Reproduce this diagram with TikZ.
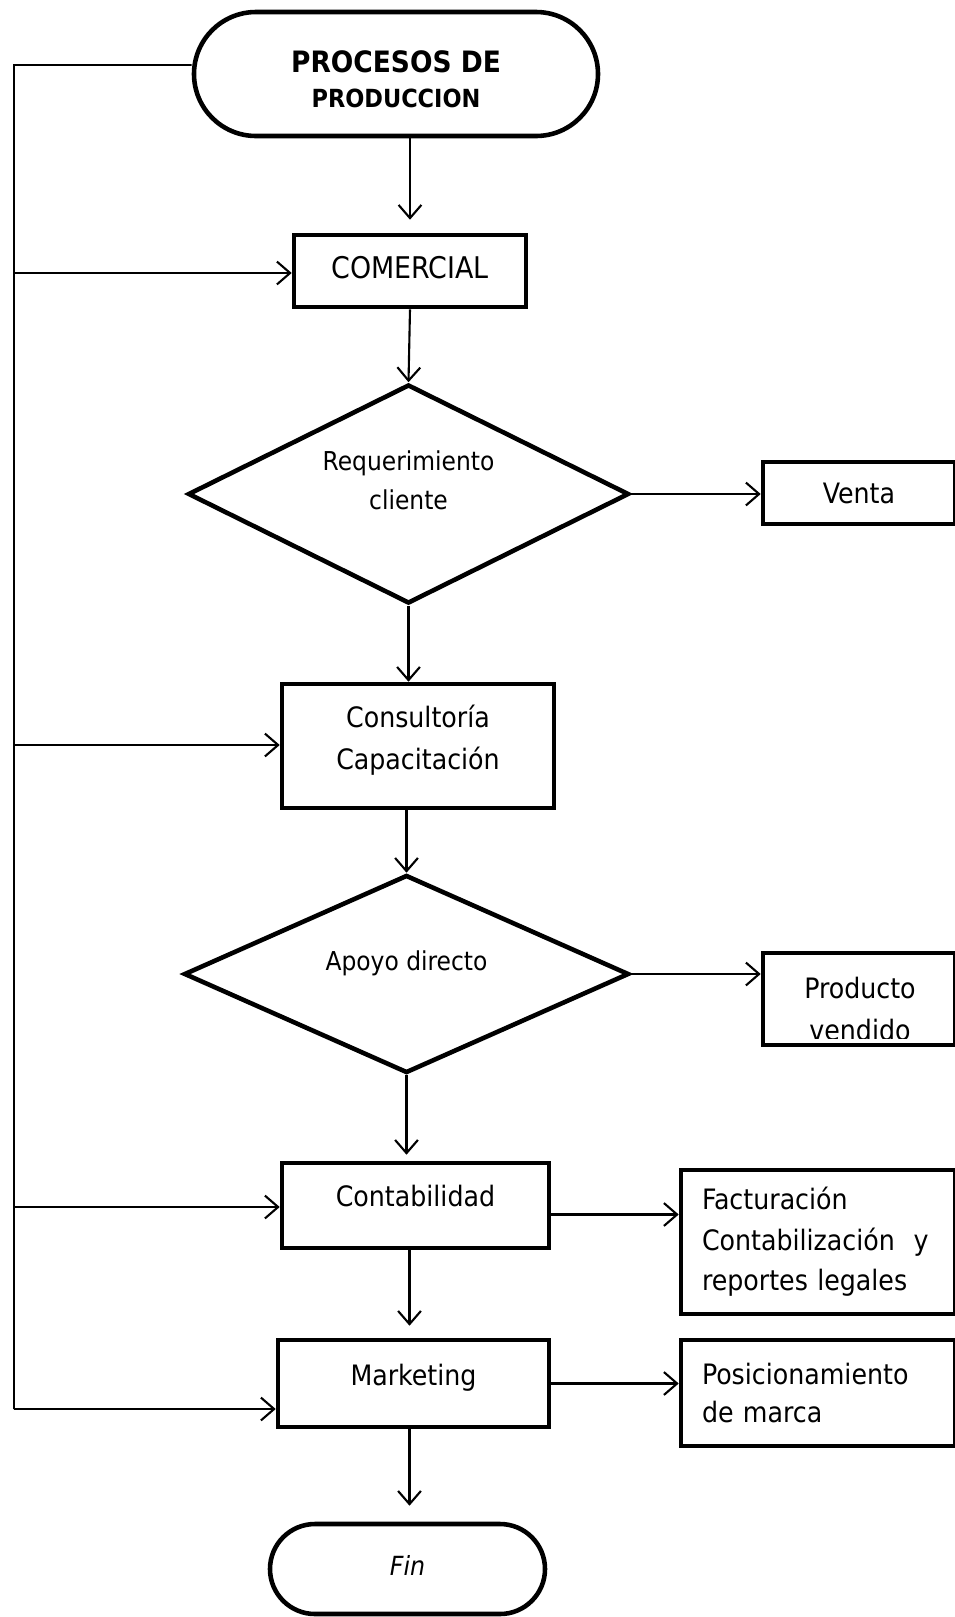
\documentclass[tikz,border=0pt]{standalone}
\usepackage{fontspec}
\setmainfont{DejaVu Sans Condensed}
\usetikzlibrary{shapes.geometric,shapes.misc,arrows.meta,calc}

\begin{document}
\begin{tikzpicture}[x=0.02cm,y=-0.02cm,
    caja/.style 2 args={draw,line width=2.6pt,minimum width=#1*0.02cm,minimum height=#2*0.02cm,inner sep=0pt,align=center,font=\fontsize{16}{24}\selectfont},
    decision/.style 2 args={diamond,aspect=2,draw,line width=2.6pt,minimum width=#1*0.02cm,minimum height=#2*0.02cm,inner sep=0pt,align=center,text depth=0.55cm,font=\fontsize{14.8}{22}\selectfont},
    terminal/.style 2 args={rounded rectangle,draw,line width=2.6pt,minimum width=#1*0.02cm,minimum height=#2*0.02cm,inner sep=0pt,align=center},
    nota/.style={align=left,text width=232*0.02cm,inner xsep=21*0.02cm},
    flecha/.style={line width=1.2pt,-{Straight Barb[length=7.5pt,width=13pt]}},
    linea/.style={line width=1pt}]
    \useasboundingbox (0,0) rectangle (955,1617);

    % bloques del proceso
    \node[terminal={404}{124},font=\fontsize{16.75}{19.8}\selectfont\bfseries,text height=1.32cm,text depth=0pt] (inicio) at (396,74) {PROCESOS DE\\{\fontsize{14.2}{19.8}\selectfont PRODUCCION}};
    \node[caja={232}{72},font=\fontsize{17}{24}\selectfont,text depth=0.16cm] (comercial) at (410,271) {COMERCIAL};
    \node[decision={441}{219}] (req) at (408.5,494) {Requerimiento\\cliente};
    \node[caja={192}{62}] (venta) at (859,493) {Venta};
    \node[caja={272}{124},text depth=0.36cm] (consult) at (418,746) {Consultoría\\Capacitación};
    \node[decision={445}{198}] (apoyo) at (406.5,974) {Apoyo directo};
    \node[caja={192}{92}] (producto) at (859,999) {};
    \begin{scope}
        \clip (producto.north west) rectangle ($(producto.south east)+(0,-9)$);
        \node[font=\fontsize{16}{24.4}\selectfont,align=center] (prodtxt) at (860,1009) {Producto\\vendido};
    \end{scope}
    \node[caja={267}{85},text depth=0.4cm] (contab) at (415.5,1205.5) {Contabilidad};
    \node[caja={274}{144},nota,font=\fontsize{16}{23}\selectfont] (factura) at (818,1242) {Facturación\\Contabilización~~y\\reportes legales};
    \node[caja={271}{87},text depth=0.36cm] (marketing) at (413.5,1383.5) {Marketing};
    \node[caja={274}{106},nota,font=\fontsize{16}{22}\selectfont] (posic) at (818,1393) {Posicionamiento\\de marca};
    \node[terminal={275}{90},font=\fontsize{15}{18}\selectfont\itshape,text depth=0.16cm] (fin) at (407.5,1569) {Fin};

    % linea de retorno a la izquierda
    \coordinate (l0) at (14,65);
    \coordinate (l1) at (14,273);
    \coordinate (l2) at (14,745);
    \coordinate (l3) at (14,1207);
    \coordinate (l4) at (14,1409);
    \draw[linea] ([yshift=0.18cm]inicio.west) -- (l0) -- (l4);
    \foreach \n/\c in {comercial/l1,consult/l2,contab/l3,marketing/l4}
        \draw[flecha] (\c) -- (\c -| \n.west);

    % flujo principal
    \draw[flecha,shorten >=13*0.02cm] (comercial.north |- inicio.south) -- (comercial.north);
    \draw[flecha] (comercial.south) -- (req.north);
    \draw[flecha] (req.south) -- (req.south |- consult.north);
    \draw[flecha] (apoyo.north |- consult.south) -- (apoyo.north);
    \draw[flecha,shorten >=6*0.02cm] (apoyo.south) -- (apoyo.south |- contab.north);
    \coordinate (c1) at ($(contab.south)+(-6,0)$);
    \draw[flecha,shorten >=12*0.02cm] (c1) -- (c1 |- marketing.north);
    \coordinate (m1) at ($(marketing.south)+(-4,0)$);
    \draw[flecha,shorten >=16*0.02cm] (m1) -- (m1 |- fin.north);

    % salidas a la derecha
    \coordinate (c2) at ($(contab.east)+(0,9)$);
    \draw[flecha] (req.east) -- (req.east -| venta.west);
    \draw[flecha] (apoyo.east) -- (apoyo.east -| producto.west);
    \draw[flecha] (c2) -- (c2 -| factura.west);
    \draw[flecha] (marketing.east) -- (marketing.east -| posic.west);
\end{tikzpicture}
\end{document}
